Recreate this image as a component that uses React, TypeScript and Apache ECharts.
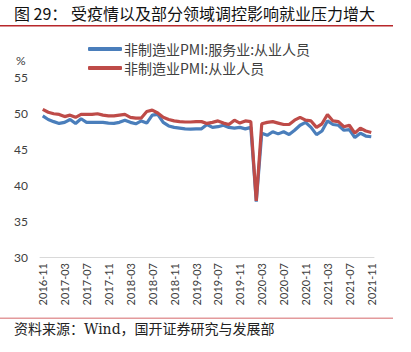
import React, { useEffect, useRef } from "react";
import * as echarts from "echarts";

const months: string[] = [];
for (let y = 2016, m = 11; y < 2021 || (y === 2021 && m <= 11); ) {
  months.push(`${y}-${String(m).padStart(2, "0")}`);
  m++;
  if (m > 12) { m = 1; y++; }
}

const seriesNames = ["非制造业PMI:服务业:从业人员", "非制造业PMI:从业人员"];

const servicesEmployment = [
  49.6, 49.1, 48.8, 48.55, 48.7, 49.1, 48.55, 49.2, 48.7, 48.7,
  48.7, 48.7, 48.6, 48.55, 48.7, 49.0, 48.7, 48.5, 48.9, 48.6,
  49.7, 49.8, 48.7, 48.2, 48.0, 47.9, 47.8, 47.75, 47.8, 47.8,
  48.4, 48.0, 48.1, 48.3, 48.0, 47.9, 48.0, 47.8, 48.0, 37.7,
  47.2, 46.9, 47.4, 47.1, 47.4, 47.0, 47.6, 48.3, 48.7, 48.0,
  47.0, 47.5, 48.9, 48.4, 48.3, 47.6, 47.7, 46.6, 47.2, 46.8,
  46.7,
];

const nonMfgEmployment = [
  50.5, 50.1, 49.9, 49.8, 49.5, 49.7, 49.4, 49.8, 49.8, 49.8,
  49.9, 49.7, 49.6, 49.6, 49.7, 49.8, 49.4, 49.3, 49.3, 50.2,
  50.4, 50.0, 49.4, 49.1, 48.9, 48.8, 48.75, 48.75, 48.8, 48.8,
  48.55, 48.7, 48.9, 48.6, 48.4, 49.0, 48.6, 48.9, 48.8, 37.8,
  48.5, 48.7, 48.8, 48.6, 48.4, 48.4, 49.0, 49.4, 49.0, 48.9,
  48.0, 48.5, 49.8, 48.9, 48.8, 48.1, 48.3, 47.2, 47.9, 47.5,
  47.3,
];

const title = "图 29： 受疫情以及部分领域调控影响就业压力增大";
const source = "资料来源：Wind，国开证券研究与发展部";

export default function App() {
  const ref = useRef<HTMLDivElement>(null);
  useEffect(() => {
    if (!ref.current) return;
    const chart = echarts.init(ref.current, null, { renderer: "svg" });
    chart.setOption({
      animation: false,
      backgroundColor: "#ffffff",
      textStyle: { fontFamily: "Lato, 'Noto Sans CJK SC', sans-serif" },
      grid: { left: 40, right: 37, top: 77, bottom: 95, containLabel: false },
      legend: {
        orient: "vertical",
        left: 83,
        top: 37,
        itemWidth: 34,
        itemHeight: 4,
        itemGap: 5,
        icon: "roundRect",
        textStyle: { fontSize: 14, color: "#404040", fontFamily: "'Noto Sans CJK SC', sans-serif", padding: [0, 0, 0, -3] },
        data: seriesNames,
      },
      xAxis: {
        type: "category",
        data: months,
        boundaryGap: true,
        axisLine: { lineStyle: { color: "#d9d9d9", width: 1 } },
        axisTick: { interval: 3, length: 4, lineStyle: { color: "#d9d9d9" } },
        axisLabel: { interval: 3, rotate: 90, fontSize: 11, color: "#404040", margin: 6, fontFamily: "Lato, sans-serif" },
        splitLine: { show: false },
      },
      yAxis: {
        type: "value",
        min: 30,
        max: 55,
        interval: 5,
        axisLine: { show: false },
        axisTick: { show: false },
        splitLine: { show: false },
        axisLabel: { fontSize: 12, color: "#404040", margin: 12, fontFamily: "Lato, sans-serif" },
      },
      series: [
        {
          name: seriesNames[0],
          type: "line",
          data: servicesEmployment,
          symbol: "none",
          lineStyle: { width: 3.2, color: "#4A7EBB" },
          itemStyle: { color: "#4A7EBB" },
        },
        {
          name: seriesNames[1],
          type: "line",
          data: nonMfgEmployment,
          symbol: "none",
          lineStyle: { width: 3.2, color: "#BE4B48" },
          itemStyle: { color: "#BE4B48" },
        },
      ],
      graphic: [
        {
          type: "text",
          left: 14,
          top: 5,
          style: { text: title, fontSize: 16, fill: "#111", fontFamily: "'Noto Sans CJK SC', sans-serif", fontWeight: "normal" },
        },
        { type: "rect", shape: { x: 0, y: 25, width: 393, height: 1.5 }, style: { fill: "#B8272B" } },
        {
          type: "text",
          left: 16,
          top: 54,
          style: { text: "%", fontSize: 12, fill: "#404040", fontFamily: "Lato, sans-serif" },
        },
        { type: "rect", shape: { x: 0, y: 317.5, width: 393, height: 1.5 }, style: { fill: "#E39A9C" } },
        {
          type: "text",
          left: 14,
          top: 322,
          style: { text: source, fontSize: 14, fill: "#222", fontFamily: "'DejaVu Serif', 'Noto Sans CJK SC', serif" },
        },
      ],
    });
    return () => chart.dispose();
  }, []);
  return <div ref={ref} style={{ position: "fixed", left: 0, top: 0, width: 411, height: 352 }} />;
}
